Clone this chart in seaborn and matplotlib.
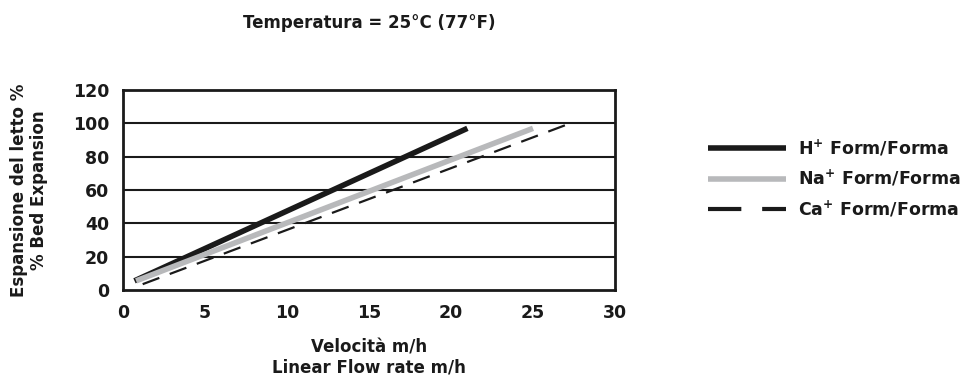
import matplotlib
matplotlib.use("Agg")
import matplotlib.pyplot as plt
import seaborn as sns
import pandas as pd

# data (velocity m/h, bed expansion %)
h_x = [0.7, 21.0]
h_y = [5.5, 97.0]
na_x = [0.8, 25.0]
na_y = [5.5, 97.0]
ca_x = [1.2, 27.0]
ca_y = [3.5, 99.0]

labels = [r"H$^{\mathbf{+}}$ Form/Forma", r"Na$^{\mathbf{+}}$ Form/Forma", r"Ca$^{\mathbf{+}}$ Form/Forma"]

sns.set_style("white")
plt.rcParams['font.family'] = ['DejaVu Sans']
plt.rcParams['font.weight'] = 'bold'
plt.rcParams['mathtext.default'] = 'bf'

fig = plt.figure(figsize=(9.69, 3.75), dpi=100)
ax = fig.add_axes([123/969, 1 - 290/375, 492/969, 200/375])

sns.lineplot(x=h_x, y=h_y, ax=ax, color='#1a1a1a', lw=4, label=labels[0])
sns.lineplot(x=na_x, y=na_y, ax=ax, color='#b8b9bb', lw=4, label=labels[1])
sns.lineplot(x=ca_x, y=ca_y, ax=ax, color='#1a1a1a', lw=1.6, label=labels[2])
ax.lines[2].set_dashes([8, 5])
for ln in ax.lines:
    ln.set_solid_capstyle('butt')
    ln.set_dash_capstyle('butt')

ax.set_xlim(0, 30)
ax.set_ylim(0, 120)
ax.set_xticks([0, 5, 10, 15, 20, 25, 30])
ax.set_xticks(range(0, 31), minor=True)
ax.set_yticks([0, 20, 40, 60, 80, 100, 120])
for yv in [20, 40, 60, 80, 100]:
    ax.axhline(yv, color='#1a1a1a', lw=1.5, zorder=0)

for s in ax.spines.values():
    s.set_linewidth(2)
    s.set_color('#1a1a1a')
ax.tick_params(axis='x', which='major', direction='inout', length=8, width=1.5, labelsize=12.5, pad=6)
ax.tick_params(axis='x', which='minor', direction='in', length=4, width=1.5)
ax.tick_params(axis='y', which='major', length=0, labelsize=12.5, pad=10)
for t in ax.get_xticklabels() + ax.get_yticklabels():
    t.set_fontweight('bold')
    t.set_color('#1a1a1a')

ax.set_xlabel("Velocità m/h\nLinear Flow rate m/h", fontsize=12, fontweight='bold',
              color='#1a1a1a', labelpad=12, linespacing=1.15)
ax.set_ylabel("Espansione del letto %\n% Bed Expansion", fontsize=12, fontweight='bold',
              color='#1a1a1a', labelpad=18, linespacing=1.15)
ax.set_title("Temperatura = 25°C (77°F)", fontsize=12, fontweight='bold',
             color='#1a1a1a', pad=45)

leg = ax.legend(loc='upper left', bbox_to_anchor=(692/969, 1 - 122/375),
                bbox_transform=fig.transFigure, frameon=False, fontsize=12.5,
                handlelength=4.5, handletextpad=0.7, labelspacing=0.6)
for t in leg.get_texts():
    t.set_fontweight('bold')
    t.set_color('#1a1a1a')
for h in leg.get_lines():
    h.set_solid_capstyle('butt')
leg.get_lines()[2].set_linewidth(3)

fig.savefig("out.png", dpi=100)
